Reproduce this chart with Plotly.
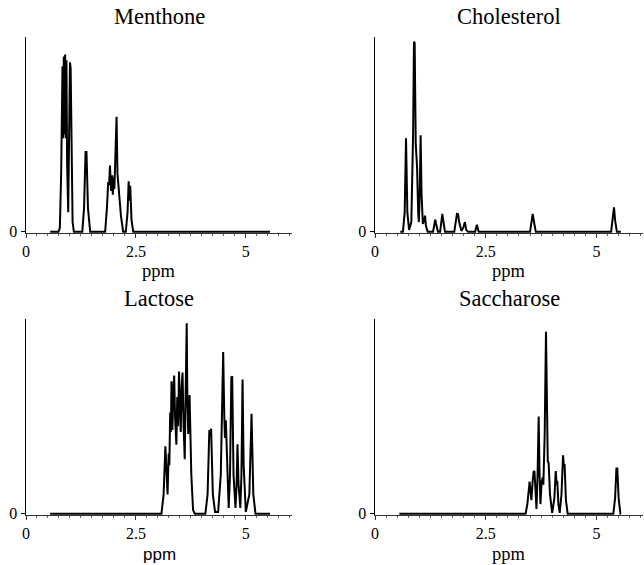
import plotly.graph_objects as go

# ---------------- data ----------------
titles = ["Menthone", "Cholesterol", "Lactose", "Saccharose"]
tick_vals = [0, 2.5, 5]
tick_text = ["0", "2.5", "5"]

menthone_ppm = [0.55, 0.74, 0.77, 0.80, 0.83, 0.845, 0.86, 0.875, 0.89, 0.905, 0.92, 0.935, 0.96,
                0.98, 1.00, 1.015, 1.035, 1.06, 1.09,
                1.28, 1.32, 1.355, 1.365, 1.375, 1.41, 1.46,
                1.80, 1.84, 1.87, 1.89, 1.91, 1.935, 1.96, 1.975, 1.995, 2.01, 2.03, 2.06, 2.08,
                2.105, 2.12, 2.16, 2.21,
                2.27, 2.31, 2.335, 2.35, 2.37, 2.40, 2.44, 5.55]
menthone_int = [0, 0, 0.02, 0.30, 0.85, 0.48, 0.90, 0.50, 0.91, 0.48, 0.88, 0.35, 0.10,
                0.55, 0.87, 0.84, 0.30, 0.05, 0,
                0, 0.12, 0.415, 0.39, 0.415, 0.12, 0,
                0, 0.12, 0.255, 0.24, 0.34, 0.21, 0.29, 0.19, 0.28, 0.22, 0.36, 0.59, 0.30,
                0.236, 0.21, 0.08, 0,
                0, 0.10, 0.26, 0.16, 0.236, 0.06, 0, 0]

cholesterol_ppm = [0.57, 0.63, 0.67, 0.70, 0.73, 0.77, 0.82, 0.86, 0.88, 0.895, 0.92, 0.935, 0.95,
                   0.975, 0.99, 1.01, 1.03, 1.05, 1.08, 1.11, 1.13, 1.15, 1.19,
                   1.31, 1.34, 1.36, 1.38, 1.42, 1.47, 1.50, 1.52, 1.54, 1.58,
                   1.79, 1.83, 1.85, 1.875, 1.90, 1.95, 1.99, 2.03, 2.06, 2.10,
                   2.26, 2.30, 2.34, 3.50, 3.53, 3.56, 3.59, 3.63,
                   5.33, 5.36, 5.385, 5.395, 5.42, 5.46, 5.55]
cholesterol_int = [0, 0, 0.10, 0.48, 0.10, 0.01, 0.05, 0.50, 0.976, 0.97, 0.45, 0.40, 0.33,
                   0.10, 0.05, 0.20, 0.495, 0.20, 0.04, 0.06, 0.083, 0.03, 0,
                   0, 0.04, 0.063, 0.04, 0, 0, 0.06, 0.092, 0.06, 0,
                   0, 0.07, 0.092, 0.09, 0.05, 0.005, 0.02, 0.05, 0.01, 0,
                   0, 0.037, 0, 0, 0.05, 0.092, 0.05, 0,
                   0, 0.06, 0.126, 0.126, 0.06, 0, 0]

lactose_ppm = [0.55, 3.08, 3.13, 3.17, 3.20, 3.22, 3.245, 3.26, 3.28, 3.295, 3.31, 3.33, 3.35,
               3.37, 3.39, 3.42, 3.44, 3.46, 3.48, 3.50, 3.52, 3.54, 3.56, 3.585, 3.61, 3.63,
               3.655, 3.67, 3.69, 3.72, 3.735, 3.76, 3.80, 3.84,
               4.08, 4.13, 4.17, 4.19, 4.21, 4.25, 4.30, 4.37,
               4.43, 4.485, 4.51, 4.525, 4.545, 4.575, 4.61, 4.64, 4.67, 4.69, 4.72, 4.765,
               4.79, 4.81, 4.835, 4.875, 4.90, 4.925, 4.95, 5.00, 5.08, 5.13, 5.17, 5.22, 5.55]
lactose_int = [0, 0, 0.10, 0.347, 0.20, 0.10, 0.31, 0.25, 0.52, 0.42, 0.68, 0.43, 0.62,
               0.71, 0.50, 0.355, 0.60, 0.45, 0.73, 0.50, 0.42, 0.65, 0.725, 0.45, 0.28, 0.60,
               0.978, 0.60, 0.41, 0.61, 0.44, 0.20, 0.02, 0,
               0, 0.10, 0.43, 0.40, 0.437, 0.10, 0.01, 0.01,
               0.20, 0.83, 0.50, 0.39, 0.48, 0.20, 0.03, 0.20, 0.70, 0.706, 0.20, 0.03,
               0.15, 0.357, 0.15, 0.03, 0.20, 0.69, 0.25, 0.01, 0.10, 0.514, 0.10, 0, 0]

saccharose_ppm = [0.55, 3.40, 3.44, 3.49, 3.51, 3.53, 3.56, 3.58, 3.60, 3.62, 3.645, 3.67, 3.695,
                  3.715, 3.735, 3.76, 3.785, 3.80, 3.83, 3.86, 3.885, 3.90, 3.92, 3.95, 4.00,
                  4.05, 4.08, 4.10, 4.115, 4.14, 4.17, 4.21, 4.245, 4.265, 4.28, 4.31, 4.35,
                  5.38, 5.42, 5.45, 5.47, 5.50, 5.54, 5.55]
saccharose_int = [0, 0, 0.05, 0.165, 0.12, 0.07, 0.17, 0.216, 0.22, 0.10, 0.025, 0.20, 0.50,
                  0.20, 0.05, 0.16, 0.187, 0.15, 0.40, 0.935, 0.40, 0.27, 0.26, 0.10, 0.005,
                  0.08, 0.22, 0.15, 0.17, 0.05, 0.005, 0.10, 0.30, 0.24, 0.255, 0.07, 0,
                  0, 0.08, 0.233, 0.233, 0.08, 0, 0]

spectra = [(menthone_ppm, menthone_int), (cholesterol_ppm, cholesterol_int),
           (lactose_ppm, lactose_int), (saccharose_ppm, saccharose_int)]

# ---------------- layout ----------------
W, H = 644, 565


def px_x(p):
    return p / W


def px_y(p):
    return 1 - p / H


x_domains = [[px_x(26), px_x(292)], [px_x(375), px_x(643)]]
y_domains = [[px_y(233), px_y(37)], [px_y(515), px_y(319)]]

serif = "Liberation Serif, Times New Roman, serif"
sans = "Liberation Sans, Arial, sans-serif"

fig = go.Figure()
layout = dict(width=W, height=H, margin=dict(l=0, r=0, t=0, b=0),
              paper_bgcolor="white", plot_bgcolor="white", showlegend=False,
              template="none")
annotations = []
for i, (xs, ys) in enumerate(spectra):
    row, col = divmod(i, 2)
    n = "" if i == 0 else str(i + 1)
    fig.add_trace(go.Scatter(x=xs, y=ys, mode="lines",
                             line=dict(color="black", width=2),
                             xaxis="x" + n, yaxis="y" + n, hoverinfo="skip"))
    layout["xaxis" + n] = dict(
        domain=x_domains[col], anchor="y" + n, range=[0, 6.05],
        showline=True, linecolor="#333", linewidth=1,
        ticks="outside", ticklen=4, tickwidth=1, tickcolor="#333",
        tickvals=tick_vals, ticktext=tick_text,
        tickfont=dict(family=serif, size=16, color="black"),
        minor=dict(tick0=0, dtick=0.25, ticks="outside", ticklen=2,
                   tickcolor="#666", tickwidth=1, showgrid=False),
        showgrid=False, zeroline=False, automargin=False, fixedrange=True)
    layout["yaxis" + n] = dict(
        domain=y_domains[row], anchor="x" + n, range=[-0.006, 1.0],
        showline=True, linecolor="black", linewidth=1.5,
        ticks="outside", ticklen=4, tickwidth=1, tickcolor="black",
        tickvals=[0], ticktext=["0"],
        tickfont=dict(family=serif, size=16, color="black"),
        showgrid=False, zeroline=False, automargin=False, fixedrange=True)
    xc = sum(x_domains[col]) / 2
    title_y = [16, 298][row]
    annotations.append(dict(text=titles[i], x=xc, y=px_y(title_y), xref="paper", yref="paper",
                            xanchor="center", yanchor="middle", showarrow=False,
                            font=dict(family=serif, size=22.5, color="black")))
    ppm_y = [271, 554][row]
    ppm_font = dict(family=sans, size=17, color="black") if i == 2 else \
        dict(family=serif, size=18.5, color="black")
    annotations.append(dict(text="ppm", x=xc, y=px_y(ppm_y), xref="paper", yref="paper",
                            xanchor="center", yanchor="middle", showarrow=False,
                            font=ppm_font))

layout["annotations"] = annotations
fig.update_layout(**layout)
fig.write_html("out.html",
               config={"displayModeBar": False, "staticPlot": True},
               post_script="document.body.style.margin='0';document.body.style.overflow='hidden';")
